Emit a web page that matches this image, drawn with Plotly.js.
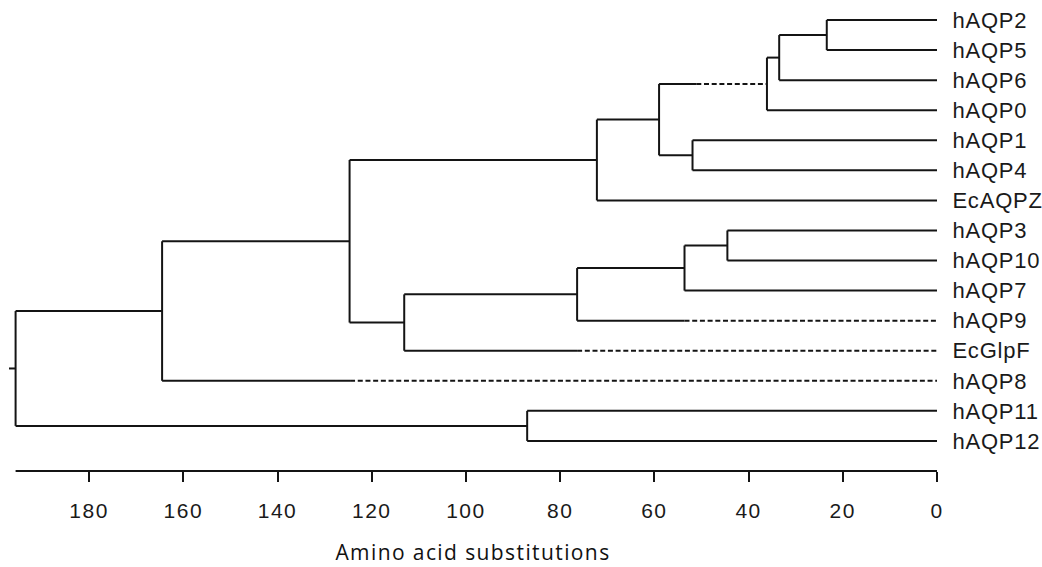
<!DOCTYPE html>
<html>
<head>
<meta charset="utf-8">
<script src="https://cdn.plot.ly/plotly-3.0.1.min.js"></script>
<style>
html,body{margin:0;padding:0;background:#fff;}
#chart{width:1042px;height:567px;}
#chart .xtick text{letter-spacing:1.5px;}
#chart text.xtitle{letter-spacing:1.4px;}
#chart .ytick text{letter-spacing:0.8px;}
</style>
</head>
<body>
<div id="chart"></div>
<script>
// Leaves, top to bottom
const leaves = ['hAQP2','hAQP5','hAQP6','hAQP0','hAQP1','hAQP4','EcAQPZ','hAQP3','hAQP10','hAQP7','hAQP9','EcGlpF','hAQP8','hAQP11','hAQP12'];
// Internal nodes: children and height (amino acid substitutions)
const nodeIds    = ['N0','N1','N2','N3','N4','N5','N6','N7','N8','N9','N10','N11','N12','N13'];
const nodeLeft   = ['hAQP2','N0','N1','hAQP1','N2','N4','hAQP3','N6','N7','N8','N5','N10','hAQP11','N11'];
const nodeRight  = ['hAQP5','hAQP6','hAQP0','hAQP4','N3','EcAQPZ','hAQP10','hAQP7','hAQP9','EcGlpF','N9','hAQP8','hAQP12','N12'];
const nodeHeight = [23.4, 33.5, 36.1, 51.9, 59.0, 72.2, 44.5, 53.6, 76.4, 113.1, 124.7, 164.5, 87.0, 195.6];
// Branches drawn partly dashed: child and value where the dashing begins
const dashedChild = ['N2','hAQP9','EcGlpF','hAQP8'];
const dashFrom    = [51.1, 53.6, 76.4, 124.6];
const rootStub = 1.4;
// Axis ticks
const xTicks = [0,20,40,60,80,100,120,140,160,180];
const xRangeMax = 197.0;

const pos = {};
leaves.forEach((l,i)=>{pos[l]={x:0,y:i};});
nodeIds.forEach((id,k)=>{
  const a = pos[nodeLeft[k]], b = pos[nodeRight[k]];
  pos[id] = {x: nodeHeight[k], y: (a.y+b.y)/2};
});

const solidX=[], solidY=[], dashX=[], dashY=[];
function seg(arrX, arrY, x0,y0,x1,y1){arrX.push(x0,x1,null);arrY.push(y0,y1,null);}
nodeIds.forEach((id,k)=>{
  const p = pos[id];
  const a = pos[nodeLeft[k]], b = pos[nodeRight[k]];
  seg(solidX, solidY, p.x, a.y, p.x, b.y);
  [nodeLeft[k], nodeRight[k]].forEach(c=>{
    const cp = pos[c];
    const di = dashedChild.indexOf(c);
    if(di >= 0){
      seg(solidX, solidY, p.x, cp.y, dashFrom[di], cp.y);
      seg(dashX, dashY, dashFrom[di], cp.y, cp.x, cp.y);
    } else {
      seg(solidX, solidY, p.x, cp.y, cp.x, cp.y);
    }
  });
});
const root = pos['N13'];
seg(solidX, solidY, root.x, root.y, root.x + rootStub, root.y);

const lineColor = '#141414';
const data = [
  {type:'scatter', mode:'lines', x:solidX, y:solidY, line:{color:lineColor, width:2}, hoverinfo:'skip', showlegend:false},
  {type:'scatter', mode:'lines', x:dashX, y:dashY, line:{color:lineColor, width:2, dash:'5px,2.7px'}, hoverinfo:'skip', showlegend:false}
];

const layout = {
  width:1042, height:567,
  margin:{l:9, r:105, t:0, b:96, pad:0},
  paper_bgcolor:'#fff', plot_bgcolor:'#fff',
  showlegend:false,
  xaxis:{
    range:[xRangeMax, 0], showgrid:false, zeroline:false, showline:false,
    tickmode:'array', tickvals:xTicks, ticktext:xTicks.map(String),
    ticks:'outside', ticklen:10, tickwidth:2, tickcolor:lineColor,
    ticklabelstandoff:11,
    tickfont:{family:'Liberation Sans, Arial, sans-serif', size:21, color:'#1a1a1a'},
    automargin:false,
    title:{text:'Amino acid substitutions', font:{family:'Open Sans, sans-serif', size:21, color:'#111'}, standoff:24}
  },
  yaxis:{
    range:[15.0, -0.666], side:'right', showgrid:false, zeroline:false, showline:false,
    tickmode:'array', tickvals:leaves.map((l,i)=>i), ticktext:leaves,
    ticks:'outside', ticklen:10, tickcolor:'rgba(0,0,0,0)',
    tickfont:{family:'Liberation Sans, Arial, sans-serif', size:22, color:'#1a1a1a'},
    automargin:false
  },
  shapes:[
    {type:'line', xref:'x', yref:'paper', x0:root.x, x1:0, y0:0, y1:0, line:{color:lineColor, width:2}}
  ]
};
Plotly.newPlot('chart', data, layout, {staticPlot:true, displayModeBar:false});
</script>
</body>
</html>
